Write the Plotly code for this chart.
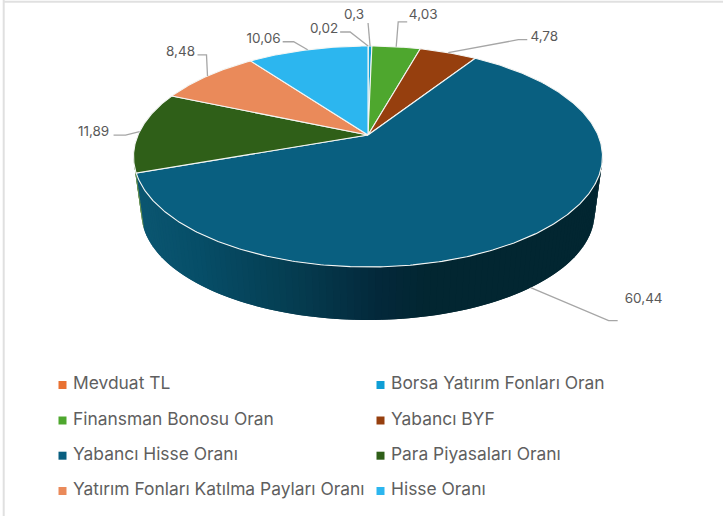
import numpy as np
import plotly.graph_objects as go

# --- data ---
categories = ["Mevduat TL", "Borsa Yatırım Fonları Oran", "Finansman Bonosu Oran", "Yabancı BYF",
              "Yabancı Hisse Oranı", "Para Piyasaları Oranı", "Yatırım Fonları Katılma Payları Oranı", "Hisse Oranı"]
values = [0.02, 0.3, 4.03, 4.78, 60.44, 11.89, 8.48, 10.06]
colors = ["#E97132", "#0F9ED5", "#4EA72E", "#963F0E", "#095F80", "#2F5F18", "#EA8A5A", "#2CB6EF"]

# --- projection of the tilted pie onto pixels ---
CX, KP = 368.0, 0.1946
TOP = dict(R=230.0, S=106.3, Y0=135.0)
BOT = dict(R=222.2, S=102.7, Y0=192.5)


def project(theta, plane):
    u, v = np.sin(theta), np.cos(theta)
    d = 1 + KP * v
    return CX + plane["R"] * u / d, plane["Y0"] - plane["S"] * v / d


total = sum(values)
edges = np.cumsum([0] + values) / total * 2 * np.pi
mids = (edges[:-1] + edges[1:]) / 2
RIGHT_T, LEFT_T = np.pi - np.arccos(KP), np.pi + np.arccos(KP)

STOPS_X = [140, 200, 300, 383, 430, 600]
STOPS_C = [(11, 86, 113), (6, 78, 104), (5, 60, 80), (3, 40, 58), (2, 38, 49), (2, 38, 49)]


def shade(x):
    c = [np.interp(x, STOPS_X, [s[i] for s in STOPS_C]) for i in range(3)]
    return "rgb(%d,%d,%d)" % tuple(int(round(a)) for a in c)


fig = go.Figure()

# side wall: overlapping strips, painted from the right so no seams show
N = 110
side = np.linspace(RIGHT_T, LEFT_T, N + 1)
for j in range(N):
    a, b = side[j], side[min(j + 2, N)]
    m = (side[j] + side[j + 1]) / 2
    xa, ya = project(a, TOP)
    xb, yb = project(b, TOP)
    xc, yc = project(b, BOT)
    xd, yd = project(a, BOT)
    col = shade((xa + xd) / 2) if m < edges[5] else "#5E8A4C"
    fig.add_trace(go.Scatter(x=[xa, xb, xc, xd, xa], y=[ya, yb, yc, yd, ya], mode="lines", fill="toself",
                             fillcolor=col, line=dict(width=0), hoverinfo="skip", showlegend=False))

# top face slices
apex = (CX, TOP["Y0"])
for i, (name, col) in enumerate(zip(categories, colors)):
    t = np.linspace(edges[i], edges[i + 1], max(3, int(values[i] * 6)))
    xs, ys = project(t, TOP)
    fig.add_trace(go.Scatter(x=[apex[0], *xs, apex[0]], y=[apex[1], *ys, apex[1]], mode="lines", fill="toself",
                             fillcolor=col, line=dict(color="#F4F6F4", width=1.1), name=name,
                             text=name, hoverinfo="text", showlegend=False))

# leader lines & value labels (offsets from the rim anchor: elbow, far end, label centre)
LABEL_LAYOUT = {
    0: dict(elbow=(-18, -14), end=(-28, -14), label=(-44, -16), plane=TOP),
    1: dict(elbow=None, end=(-2, -23), label=(-16, -30), plane=TOP),
    2: dict(elbow=(2, -25), end=(11, -25), label=(27, -31), plane=TOP),
    3: dict(elbow=(70, -13), end=(79, -13), label=(96, -15), plane=TOP),
    4: dict(elbow=(78, 33), end=(87, 33), label=(113, 12), plane=BOT),
    5: dict(elbow=(-14, 3.5), end=(-26, 3.5), label=(-46, 1), plane=TOP),
    6: dict(elbow=(-1, -21), end=(-10, -21), label=(-27, -23), plane=TOP),
    7: dict(elbow=(-14, -8), end=(-25, -8), label=(-44, -10), plane=TOP),
}
lx, ly, tx, ty, tt = [], [], [], [], []
for i, v in enumerate(values):
    cfg = LABEL_LAYOUT[i]
    ax, ay = project(mids[i], cfg["plane"])
    pts = [(ax, ay)]
    if cfg["elbow"]:
        pts.append((ax + cfg["elbow"][0], ay + cfg["elbow"][1]))
    pts.append((ax + cfg["end"][0], ay + cfg["end"][1]))
    lx += [p[0] for p in pts] + [None]
    ly += [p[1] for p in pts] + [None]
    tx.append(ax + cfg["label"][0])
    ty.append(ay + cfg["label"][1])
    tt.append(str(v).replace(".", ","))
fig.add_trace(go.Scatter(x=lx, y=ly, mode="lines", line=dict(color="#A6A6A6", width=1.3),
                         hoverinfo="skip", showlegend=False))
fig.add_trace(go.Scatter(x=tx, y=ty, mode="text", text=tt, textposition="middle center",
                         textfont=dict(family="Inter", size=13.5, color="#595959"),
                         hoverinfo="skip", showlegend=False))

# two-column legend
LEG_X, LEG_Y = [62.5, 380.5], [385, 420.5, 455.7, 491]
TEXT_GAP = 10.5
for i, (name, col) in enumerate(zip(categories, colors)):
    fig.add_trace(go.Scatter(x=[LEG_X[i % 2]], y=[LEG_Y[i // 2]], mode="markers",
                             marker=dict(symbol="square", size=8, color=col),
                             hoverinfo="skip", showlegend=False))
    fig.add_trace(go.Scatter(x=[LEG_X[i % 2] + TEXT_GAP], y=[LEG_Y[i // 2]], mode="text", text=[name],
                             textposition="middle right",
                             textfont=dict(family="Inter", size=17.4, color="#5F5F5F"),
                             hoverinfo="skip", showlegend=False))

fig.update_layout(
    width=723, height=516, margin=dict(l=0, r=0, t=0, b=0), autosize=False,
    paper_bgcolor="white", plot_bgcolor="white", showlegend=False,
    xaxis=dict(range=[0, 723], visible=False, fixedrange=True),
    yaxis=dict(range=[516, 0], visible=False, fixedrange=True),
    shapes=[
        dict(type="line", xref="paper", yref="paper", x0=3 / 723, x1=1, y0=1 - 1.7 / 516, y1=1 - 1.7 / 516,
             line=dict(color="#E0E0E0", width=2)),
        dict(type="line", xref="paper", yref="paper", x0=3.7 / 723, x1=3.7 / 723, y0=0, y1=1,
             line=dict(color="#E0E0E0", width=2)),
    ],
)
fig.write_html("out.html", config=dict(displayModeBar=False),
               post_script="document.body.style.margin='0';")
